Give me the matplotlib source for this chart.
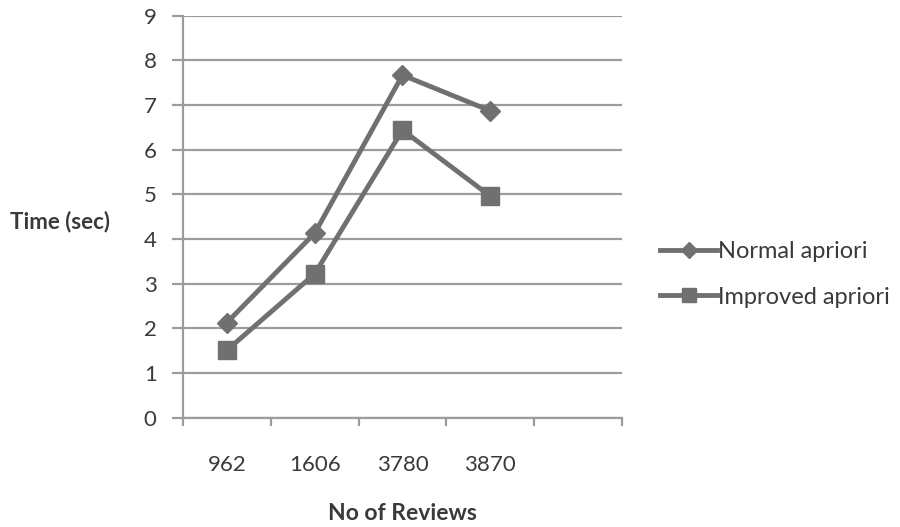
import numpy as np
import matplotlib
matplotlib.use('Agg')
from matplotlib import pyplot as plt
from matplotlib.ticker import FixedLocator

# data
reviews = ['962', '1606', '3780', '3870', '']
normal = [2.13, 4.13, 7.67, 6.87]
improved = [1.51, 3.22, 6.44, 4.96]

plt.rcParams['font.family'] = ['Lato', 'DejaVu Sans']
txt = '#3a3a3a'
line_c = '#707070'
grid_c = '#9c9c9c'

fig = plt.figure(figsize=(9, 5.27), dpi=100)
ax = fig.add_axes([0.2033, 0.2074, 0.4878, 0.7628])

xs = np.arange(len(normal))
ax.plot(xs, normal, color=line_c, lw=3.5, marker='D', ms=10, label='Normal apriori')
ax.plot(xs, improved, color=line_c, lw=3.5, marker='s', ms=13, label='Improved apriori')

ax.set_xlim(-0.5, len(reviews) - 0.5)
ax.set_ylim(0, 9)
ax.set_yticks(range(10))
ax.yaxis.grid(True, color=grid_c, lw=1.6)
ax.set_axisbelow(True)

ax.set_xticks(range(len(reviews)))
ax.set_xticklabels(reviews)
ax.xaxis.set_minor_locator(FixedLocator(np.arange(-0.5, len(reviews), 1.0)))
ax.tick_params(axis='x', which='major', length=0, pad=27, labelsize=16, labelcolor=txt)
ax.tick_params(axis='x', which='minor', length=6, width=1.6, color=grid_c, direction='out')
ax.tick_params(axis='y', length=8, width=1.6, color=grid_c, pad=11, labelsize=16, labelcolor=txt)

for s in ['top', 'right']:
    ax.spines[s].set_visible(False)
for s in ['left', 'bottom']:
    ax.spines[s].set_color(grid_c)
    ax.spines[s].set_linewidth(1.6)

ax.set_xlabel('No of Reviews', fontsize=16.5, fontweight='bold', color=txt, labelpad=20)
fig.text(0.011, 0.579, 'Time (sec)', fontsize=16, fontweight='bold', color=txt,
         ha='left', va='center')

leg = ax.legend(loc='center left', bbox_to_anchor=(1.087, 0.357), frameon=False,
                fontsize=17, labelcolor=txt, handlelength=2.4, handletextpad=0.05,
                labelspacing=1.05, markerscale=0.8, borderpad=0, borderaxespad=0)

plt.savefig('out.png', dpi=100)
